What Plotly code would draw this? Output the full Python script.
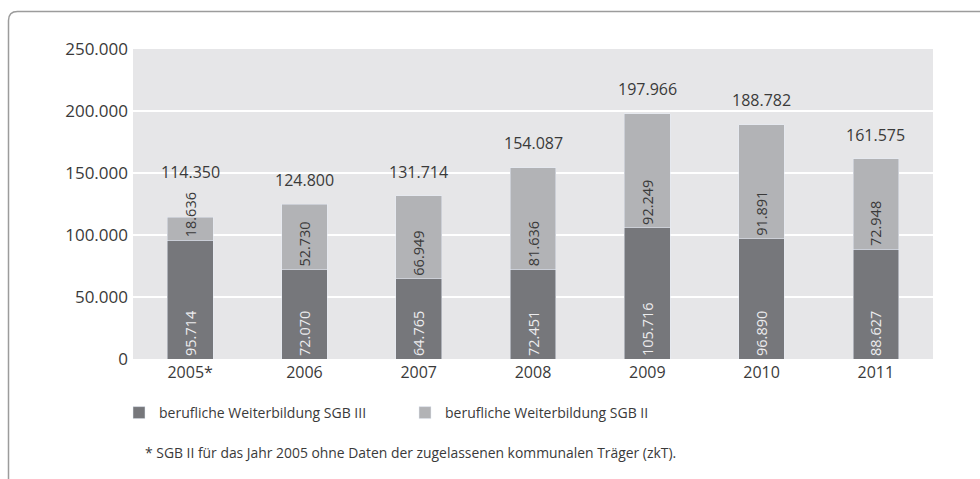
import plotly.graph_objects as go

# Teilnehmende an beruflicher Weiterbildung nach Rechtskreis
years = ["2005*", "2006", "2007", "2008", "2009", "2010", "2011"]
sgb3 = [95714, 72070, 64765, 72451, 105716, 96890, 88627]
sgb2 = [18636, 52730, 66949, 81636, 92249, 91891, 72948]
totals = [114350, 124800, 131714, 154087, 197966, 188782, 161575]
y_ticks = [0, 50000, 100000, 150000, 200000, 250000]

series_names = ["berufliche Weiterbildung SGB III", "berufliche Weiterbildung SGB II"]
footnote = "* SGB II für das Jahr 2005 ohne Daten der zugelassenen kommunalen Träger (zkT)."

# pixel offsets of the total labels above the stacks
total_label_shift = [45, 24, 24, 25, 25, 25, 24]

DARK = "#76777b"
LIGHT = "#b2b3b6"
PLOT_BG = "#e6e6e8"
TEXT = "#3a3a3a"
FONT = "Open Sans"

W, H = 980, 479
ML, MR, MT, MB = 133, 47, 49, 120
PW, PH = W - ML - MR, H - MT - MB


def px_to_paper(xp, yp):
    return (xp - ML) / PW, (H - MB - yp) / PH


fig = go.Figure()
fig.add_trace(go.Bar(
    x=years, y=sgb3, name=series_names[0], marker_color=DARK,
    texttemplate="%{y:,}", textposition="inside", insidetextanchor="start",
    textangle=-90, constraintext="none",
    insidetextfont=dict(family=FONT, size=14.5, color="#ececee"),
))
fig.add_trace(go.Bar(
    x=years, y=sgb2, name=series_names[1], marker_color=LIGHT,
    texttemplate="%{y:,}", textposition="inside", insidetextanchor="start",
    textangle=-90, constraintext="none",
    insidetextfont=dict(family=FONT, size=14.5, color=TEXT),
))

# total labels, placed by category index on the category axis
annotations = []
for i, (tot, shift) in enumerate(zip(totals, total_label_shift)):
    annotations.append(dict(
        x=i, y=tot, xref="x", yref="y", text=f"{tot:,}".replace(",", "."),
        showarrow=False, yanchor="middle", yshift=shift,
        font=dict(family=FONT, size=16, color=TEXT),
    ))

fx, fy = px_to_paper(143, 452)
annotations.append(dict(
    x=fx, y=fy, xref="paper", yref="paper", text=footnote, showarrow=False,
    xanchor="left", yanchor="middle", font=dict(family=FONT, size=13.9, color=TEXT),
))

# frame with a rounded upper-left corner
r = 9
pts = {
    "bl": px_to_paper(8.5, 490),
    "tl1": px_to_paper(8.5, 11.5 + r),
    "c": px_to_paper(8.5, 11.5),
    "tl2": px_to_paper(8.5 + r, 11.5),
    "tr": px_to_paper(995, 11.5),
}
path = (f"M {pts['bl'][0]},{pts['bl'][1]} L {pts['tl1'][0]},{pts['tl1'][1]} "
        f"Q {pts['c'][0]},{pts['c'][1]} {pts['tl2'][0]},{pts['tl2'][1]} "
        f"L {pts['tr'][0]},{pts['tr'][1]}")

lx, ly = px_to_paper(119, 413)

fig.update_layout(
    width=W, height=H,
    margin=dict(l=ML, r=MR, t=MT, b=MB),
    paper_bgcolor="white", plot_bgcolor=PLOT_BG,
    barmode="stack", bargap=0.6,
    separators=",.",
    font=dict(family=FONT, color=TEXT),
    showlegend=True,
    legend=dict(
        orientation="h", x=lx, y=ly, xanchor="left", yanchor="middle",
        font=dict(family=FONT, size=14, color=TEXT),
        traceorder="normal", itemclick=False, entrywidth=241, entrywidthmode="pixels",
    ),
    xaxis=dict(
        type="category", range=[-0.5, len(years) - 0.5],
        showgrid=False, showline=False, zeroline=False,
        tickfont=dict(family=FONT, size=16, color=TEXT),
        ticklabelstandoff=2, fixedrange=True,
    ),
    yaxis=dict(
        range=[0, 250000], tickvals=y_ticks, tickformat=",d",
        showgrid=True, gridcolor="white", gridwidth=1.5,
        zeroline=False, showline=False,
        tickfont=dict(family=FONT, size=17, color=TEXT),
        ticklabelstandoff=4, fixedrange=True,
    ),
    annotations=annotations,
    shapes=[dict(type="path", path=path, xref="paper", yref="paper",
                 line=dict(color="#9c9c9c", width=1.5), layer="above")],
)

fig.write_html("out.html")
